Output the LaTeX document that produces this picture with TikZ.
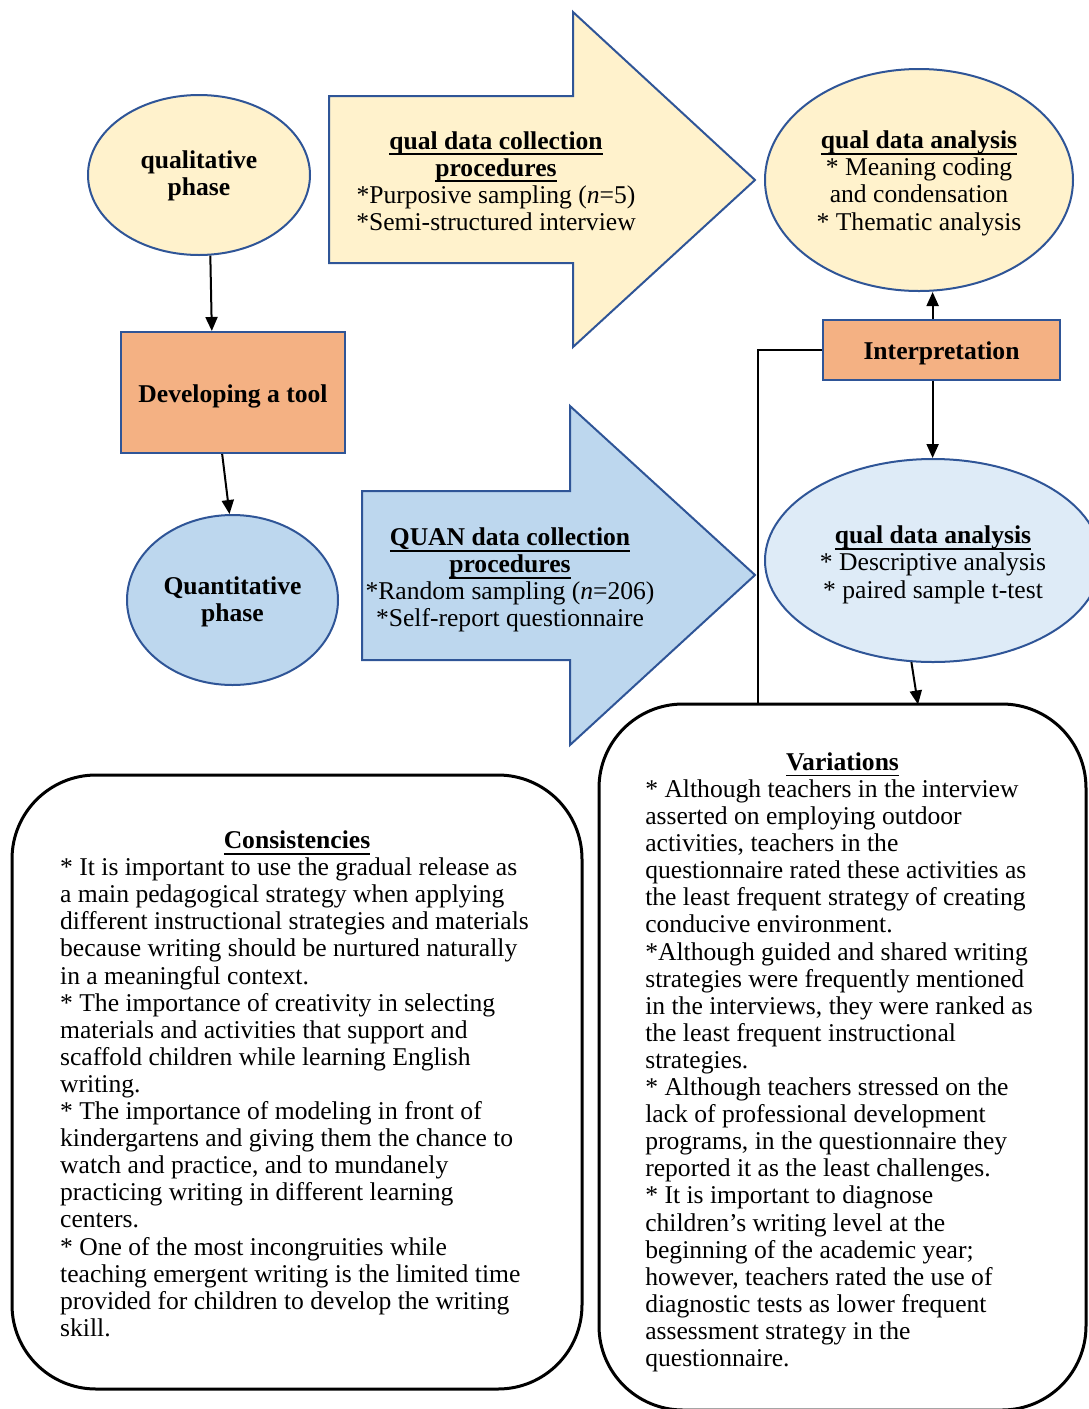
\documentclass[tikz,border=0pt]{standalone}
\usepackage{fontspec}
\setmainfont{Liberation Serif}
\usetikzlibrary{shapes.geometric,arrows.meta,calc}
\definecolor{edgeblue}{HTML}{2F5597}
\definecolor{paleyellow}{HTML}{FFF2CC}
\definecolor{salmon}{HTML}{F4B183}
\definecolor{skyblue}{HTML}{BDD7EE}
\definecolor{paleblue}{HTML}{DEEBF7}
% bold title with a heavy underline
\newcommand{\headline}[1]{\begingroup\setbox0\hbox{\textbf{#1}}%
  \leavevmode\rlap{\vrule height -2.1pt depth 3pt width \wd0}\box0\endgroup}
% move text down inside its node
\newcommand{\lowered}[2]{\raisebox{-#1}[\height][\depth]{#2}}
\begin{document}
\begin{tikzpicture}[x=0.5pt,y=-0.5pt,
    font=\fontsize{12.8}{13.55}\selectfont,
    phase/.style={ellipse, draw=edgeblue, line width=1pt, inner sep=0pt},
    stage/.style={rectangle, draw=edgeblue, line width=1pt, fill=salmon, font=\fontsize{12.8}{13.55}\selectfont\bfseries},
    bigarrow/.style={draw=edgeblue, line width=1pt},
    notebox/.style={rectangle, draw, line width=1.5pt, rounded corners=42pt, inner sep=0pt},
    flow/.style={-{Triangle[length=7pt,width=6pt]}, line width=1pt},
    link/.style={line width=1pt}]
  \useasboundingbox (0,0) rectangle (1088,1409);

  % qualitative side
  \node[phase, fill=paleyellow, minimum width=111pt, minimum height=80pt, font=\fontsize{12.8}{13.55}\selectfont\bfseries]
    (qual) at (199,175) {\lowered{1pt}{\begin{tabular}{@{}c@{}}qualitative\\phase\end{tabular}}};
  \node[stage, minimum width=112pt, minimum height=60.5pt] (tool) at (233,392.5) {\lowered{2pt}{Developing a tool}};
  \node[phase, fill=skyblue, minimum width=105.5pt, minimum height=85pt, font=\fontsize{12.8}{13.55}\selectfont\bfseries]
    (quan) at (232.5,600) {\lowered{1.5pt}{\begin{tabular}{@{}c@{}}Quantitative\\phase\end{tabular}}};

  % big arrows
  \draw[bigarrow, fill=paleyellow] (329,96) -- (573,96) -- (573,12) -- (755,180) -- (573,347) -- (573,263) -- (329,263) -- cycle;
  \node[align=center] (qualcoll) at (496,181)
    {\headline{qual data collection}\\\headline{procedures}\\{}*Purposive sampling (\textit{n}=5)\\{}*Semi-structured interview};
  \draw[bigarrow, fill=skyblue] (362,491) -- (570,491) -- (570,406) -- (755,575) -- (570,745) -- (570,660) -- (362,660) -- cycle;
  \node[align=center] (quancoll) at (510,580)
    {\headline{QUAN data collection}\\\headline{procedures}\\{}*Random sampling (\textit{n}=206)\\{}*Self-report questionnaire};

  % analysis side
  \node[phase, fill=paleyellow, minimum width=154pt, minimum height=111pt] (qualana) at (919,180)
    {\lowered{2pt}{\begin{tabular}{@{}c@{}}\headline{qual data analysis}\\{}* Meaning coding\\and condensation\\{}* Thematic analysis\end{tabular}}};
  \node[stage, minimum width=118.5pt, minimum height=30pt] (interp) at (941.5,350) {\lowered{1.5pt}{Interpretation}};
  \node[phase, fill=paleblue, minimum width=168pt, minimum height=101.5pt] (quanana) at (933,560.5)
    {\lowered{2.5pt}{\begin{tabular}{@{}c@{}}\headline{qual data analysis}\\{}* Descriptive analysis\\{}* paired sample t-test\end{tabular}}};

  % result boxes
  \node[notebox, minimum width=285pt, minimum height=307pt] (cons) at (297,1082)
    {\lowered{2.5pt}{\begin{tabular}{@{}l@{\hspace{2.5pt}}}
      \multicolumn{1}{@{}c@{}}{\headline{Consistencies}}\\
      {}* It is important to use the gradual release as\\
      a main pedagogical strategy when applying\\
      different instructional strategies and materials\\
      because writing should be nurtured naturally\\
      in a meaningful context.\\
      {}* The importance of creativity in selecting\\
      materials and activities that support and\\
      scaffold children while learning English\\
      writing.\\
      {}* The importance of modeling in front of\\
      kindergartens and giving them the chance to\\
      watch and practice, and to mundanely\\
      practicing writing in different learning\\
      centers.\\
      {}* One of the most incongruities while\\
      teaching emergent writing is the limited time\\
      provided for children to develop the writing\\
      skill.
    \end{tabular}}};
  \node[notebox, minimum width=243.5pt, minimum height=353pt] (var) at (842.5,1057)
    {\lowered{3pt}{\begin{tabular}{@{}l@{\hspace{3.5pt}}}
      \multicolumn{1}{@{}c@{}}{\headline{Variations}}\\
      {}* Although teachers in the interview\\
      asserted on employing outdoor\\
      activities, teachers in the\\
      questionnaire rated these activities as\\
      the least frequent strategy of creating\\
      conducive environment.\\
      {}*Although guided and shared writing\\
      strategies were frequently mentioned\\
      in the interviews, they were ranked as\\
      the least frequent instructional\\
      strategies.\\
      {}* Although teachers stressed on the\\
      lack of professional development\\
      programs, in the questionnaire they\\
      reported it as the least challenges.\\
      {}* It is important to diagnose\\
      children’s writing level at the\\
      beginning of the academic year;\\
      however, teachers rated the use of\\
      diagnostic tests as lower frequent\\
      assessment strategy in the\\
      questionnaire.
    \end{tabular}}};

  % connectors
  \draw[flow] (qual.-82) -- (tool.109);
  \draw[flow] (tool.-100) -- (quan.92);
  \draw[flow] (interp.106) -- (interp.106 |- qualana.south);
  \draw[flow] (interp.-106) -- (interp.-106 |- quanana.north);
  \draw[flow] (quanana.-102) -- ($(var.north)+(75.5,2)$);
  \draw[link] (interp.west) -| ($(var.north west)+(160,0)$);
\end{tikzpicture}
\end{document}
